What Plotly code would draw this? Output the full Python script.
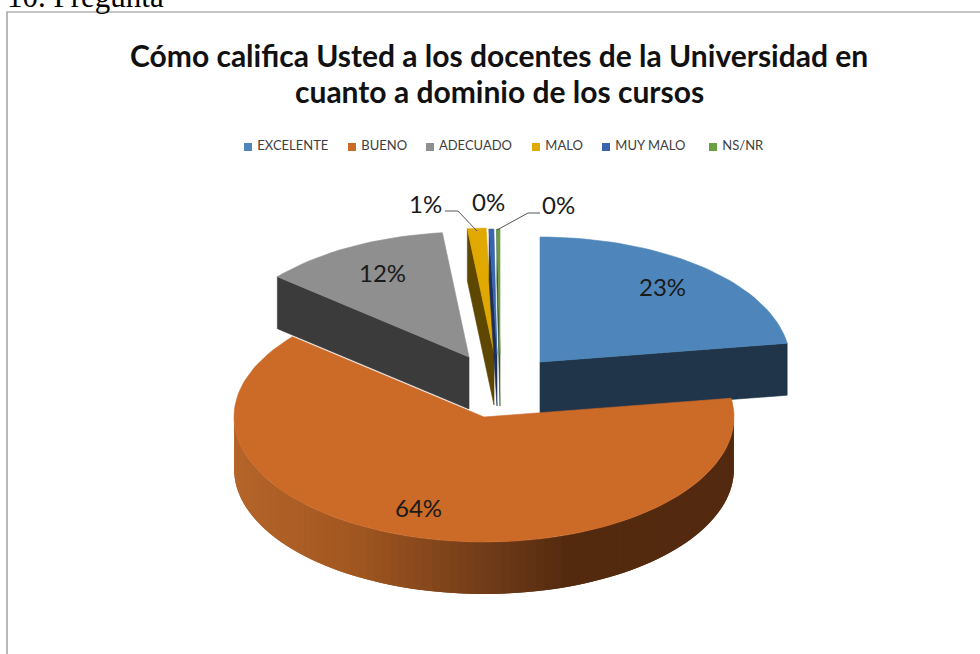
import math
import plotly.graph_objects as go

# ---------- data ----------
categories = ["EXCELENTE", "BUENO", "ADECUADO", "MALO", "MUY MALO", "NS/NR"]
percent_values = [22.6, 63.5, 12.2, 1.2, 0.3, 0.2]
title_lines = ["Cómo califica Usted a los docentes de la Universidad en",
               "cuanto a dominio de los cursos"]

# ---------- style ----------
top_colors = ["#4e86bb", "#cc6a28", "#8f8f8f", "#e0a800", "#3a64ad", "#69a042"]
face_colors = ["#20354a", "#552c10", "#3b3b3b", "#5e4700", "#1c3058", "#35512a"]
explode_dx = [43, -13, -28, -3, 0, 3]
explode_dy = [8, 63, 3, -1, 0, 0]
CX, CY, RX, RY, DEPTH = 497, 354, 250, 125, 52
wall_stops = [(234, (181, 101, 42)), (350, (163, 88, 33)), (496, (110, 58, 24)),
              (565, (85, 43, 16)), (734, (83, 42, 15))]
legend_x = [248, 352, 430, 536, 606, 713]
label_pos = [(662, 286), (418, 507), (382, 272), (425, 203), (488, 201), (558, 204)]
FONT = "Lato"


def rim(i, angle):
    a = math.radians(angle)
    return (CX + explode_dx[i] + RX * math.sin(a),
            CY + explode_dy[i] - RY * math.cos(a))


def apex(i):
    return CX + explode_dx[i], CY + explode_dy[i]


def wall_color(x):
    for (x0, c0), (x1, c1) in zip(wall_stops, wall_stops[1:]):
        if x <= x1:
            t = max(0, (x - x0) / (x1 - x0))
            return "rgb(%d,%d,%d)" % tuple(c0[k] + t * (c1[k] - c0[k]) for k in range(3))
    return "rgb(%d,%d,%d)" % wall_stops[-1][1]


def poly(xs, ys, color, name="", width=0.6):
    return go.Scatter(x=xs, y=ys, mode="lines", fill="toself", fillcolor=color,
                      line=dict(color=color, width=width), name=name,
                      hoverinfo="skip", showlegend=False)


# slice angular extents from the values
total = sum(percent_values)
angles = []
acc = 0
for v in percent_values:
    angles.append((acc / total * 360, (acc + v) / total * 360))
    acc += v

fig = go.Figure()
# back-to-front: every slice other than BUENO first
for i in [0, 2, 3, 4, 5]:
    a0, a1 = angles[i]
    ax, ay = apex(i)
    face_angle = a1 if i == 0 else a0
    rx_, ry_ = rim(i, face_angle)
    fig.add_trace(poly([ax, rx_, rx_, ax, ax], [ay, ry_, ry_ + DEPTH, ay + DEPTH, ay],
                       face_colors[i], categories[i] + " lado"))
    n = max(3, int((a1 - a0) / 2))
    arc = [rim(i, a0 + (a1 - a0) * k / n) for k in range(n + 1)]
    fig.add_trace(poly([ax] + [p[0] for p in arc] + [ax], [ay] + [p[1] for p in arc] + [ay],
                       top_colors[i], categories[i]))

# BUENO: outer wall as overlapping shaded strips (left to right), then the top surface
i = 1
a0, a1 = angles[i]
STEP = 2
for s in range(270 - STEP, 90 - STEP, -STEP):
    e = max(s - STEP, 90)
    span = [s + STEP - (s + STEP - e) * k / 4 for k in range(5)]
    pts = [rim(i, t) for t in span]
    col = wall_color(rim(i, s + STEP / 2)[0])
    fig.add_trace(poly([p[0] for p in pts] + [p[0] for p in reversed(pts)] + [pts[0][0]],
                       [p[1] for p in pts] + [p[1] + DEPTH for p in reversed(pts)] + [pts[0][1]],
                       col, "BUENO lado", width=0))
ax, ay = apex(i)
n = 120
arc = [rim(i, a0 + (a1 - a0) * k / n) for k in range(n + 1)]
fig.add_trace(poly([ax] + [p[0] for p in arc] + [ax], [ay] + [p[1] for p in arc] + [ay],
                   top_colors[i], categories[i]))

# legend row
for name, color, x in zip(categories, top_colors, legend_x):
    fig.add_trace(go.Scatter(x=[x], y=[147], mode="markers+text", text=[" " + name],
                             textposition="middle right",
                             textfont=dict(family=FONT, size=13, color="#404040"),
                             marker=dict(symbol="square", size=8, color=color),
                             name=name, hoverinfo="skip", showlegend=False))

annotations = []
for v, (x, y) in zip(percent_values, label_pos):
    annotations.append(dict(x=x, y=y, xref="x", yref="y", text="%d%%" % int(v + 0.5),
                            showarrow=False, font=dict(family=FONT, size=24, color="#1a1a1a")))
for line, y in zip(title_lines, [55, 91]):
    annotations.append(dict(x=499, y=y, xref="x", yref="y", text="<b>%s</b>" % line,
                            showarrow=False, font=dict(family=FONT, size=30, color="#111111")))
annotations.append(dict(x=5, y=16, xref="x", yref="y", text="10. Pregunta", showarrow=False,
                        xanchor="left", yanchor="bottom",
                        font=dict(family="Liberation Serif", size=31, color="black")))

shapes = [
    dict(type="path", path="M 7 654 L 7 12 L 980 12", line=dict(color="#8c8c8c", width=1.2), layer="below"),
    dict(type="path", path="M 445 211 L 458 211 L 477 231", line=dict(color="#555555", width=1)),
    dict(type="path", path="M 540 213 L 528 213 L 497 230", line=dict(color="#555555", width=1)),
]

fig.update_layout(
    width=980, height=654, margin=dict(l=0, r=0, t=0, b=0), autosize=False,
    paper_bgcolor="white", plot_bgcolor="white", showlegend=False,
    xaxis=dict(range=[0, 980], visible=False, fixedrange=True),
    yaxis=dict(range=[654, 0], visible=False, fixedrange=True),
    annotations=annotations, shapes=shapes,
)
fig.write_html("out.html", post_script="document.body.style.margin='0';",
               config=dict(displayModeBar=False))
